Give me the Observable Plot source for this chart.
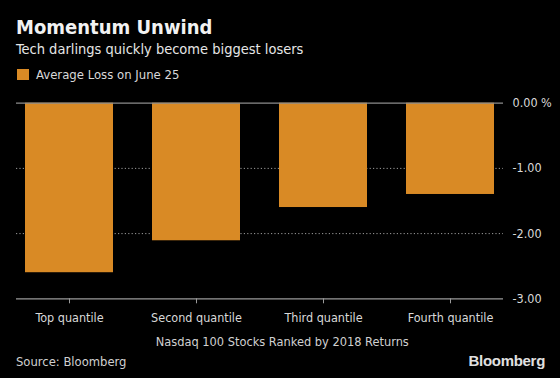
<!DOCTYPE html>
<html>
<head>
<meta charset="utf-8">
<script src="https://cdn.jsdelivr.net/npm/d3@7"></script>
<script src="https://cdn.jsdelivr.net/npm/@observablehq/plot@0.6"></script>
<style>
  html, body { margin: 0; padding: 0; background: #000; }
  body { width: 560px; height: 378px; overflow: hidden; font-family: "DejaVu Sans Condensed", "DejaVu Sans", sans-serif; color: #e6e6e6; position: relative; }
  .t { position: absolute; white-space: nowrap; line-height: normal; }
  #title { left: 16px; top: 14.7px; font-size: 20px; font-weight: bold; color: #f2f2f2; }
  #subtitle { left: 16px; top: 41px; font-size: 14.5px; color: #e6e6e6; }
  #sw { position: absolute; left: 17px; top: 69px; width: 12px; height: 11px; background: #d98a25; }
  #legend { left: 36px; top: 67px; font-size: 13px; color: #d9d9d9; }
  #chart { position: absolute; left: 0; top: 90px; }
  #xtitle { left: 155.7px; top: 333.9px; font-size: 12.7px; color: #d0d0d0; }
  #source { left: 16px; top: 353.7px; font-size: 12.9px; color: #d0d0d0; }
  #logo { position: absolute; right: 15px; top: 352px; font-size: 15px; font-weight: bold; color: #e0e0e0; font-family: "Liberation Sans", "DejaVu Sans", sans-serif; letter-spacing: -0.3px; }
</style>
</head>
<body>
<div id="title" class="t">Momentum Unwind</div>
<div id="subtitle" class="t">Tech darlings quickly become biggest losers</div>
<div id="sw"></div>
<div id="legend" class="t"></div>
<div id="chart"></div>
<div id="xtitle" class="t"></div>
<div id="source" class="t">Source: Bloomberg</div>
<div id="logo">Bloomberg</div>
<script>
const categories = ["Top quantile", "Second quantile", "Third quantile", "Fourth quantile"];
const values = [-2.6, -2.11, -1.6, -1.4];
const yTicks = [0, -1, -2, -3];
const seriesName = "Average Loss on June 25";
const xTitle = "Nasdaq 100 Stocks Ranked by 2018 Returns";

document.getElementById("legend").textContent = seriesName;
document.getElementById("xtitle").textContent = xTitle;

const data = categories.map((c, i) => ({category: c, value: values[i]}));

const chart = Plot.plot({
  width: 560,
  height: 240,
  marginLeft: 16,
  marginRight: 57,
  marginTop: 12.7,
  marginBottom: 31.7,
  style: {background: "transparent", color: "#d9d9d9", fontFamily: "'DejaVu Sans Condensed', 'DejaVu Sans', sans-serif", fontSize: "12px"},
  x: {domain: categories, paddingInner: 0.307, paddingOuter: 0.07, label: null},
  y: {domain: [-3, 0], label: null},
  marks: [
    Plot.ruleY([-1, -2], {stroke: "#9a9a9a", strokeDasharray: "1.2,2.2", strokeWidth: 1}),
    Plot.barY(data, {x: "category", y: "value", fill: "#d98a25"}),
    Plot.ruleY([0], {stroke: "#8c8c8c", strokeWidth: 1.3}),
    Plot.ruleY([-3], {stroke: "#9a9a9a", strokeWidth: 1.3}),
    Plot.axisY({anchor: "right", ticks: yTicks, tickSize: 0, tickPadding: 9, fontSize: 12.5,
      tickFormat: d => d === 0 ? "0.00 %" : d.toFixed(2), label: null}),
    Plot.axisX({anchor: "bottom", tickSize: 5, tickPadding: 9, fontSize: 12.5, stroke: "#9a9a9a", label: null})
  ]
});
document.getElementById("chart").appendChild(chart);
</script>
</body>
</html>
